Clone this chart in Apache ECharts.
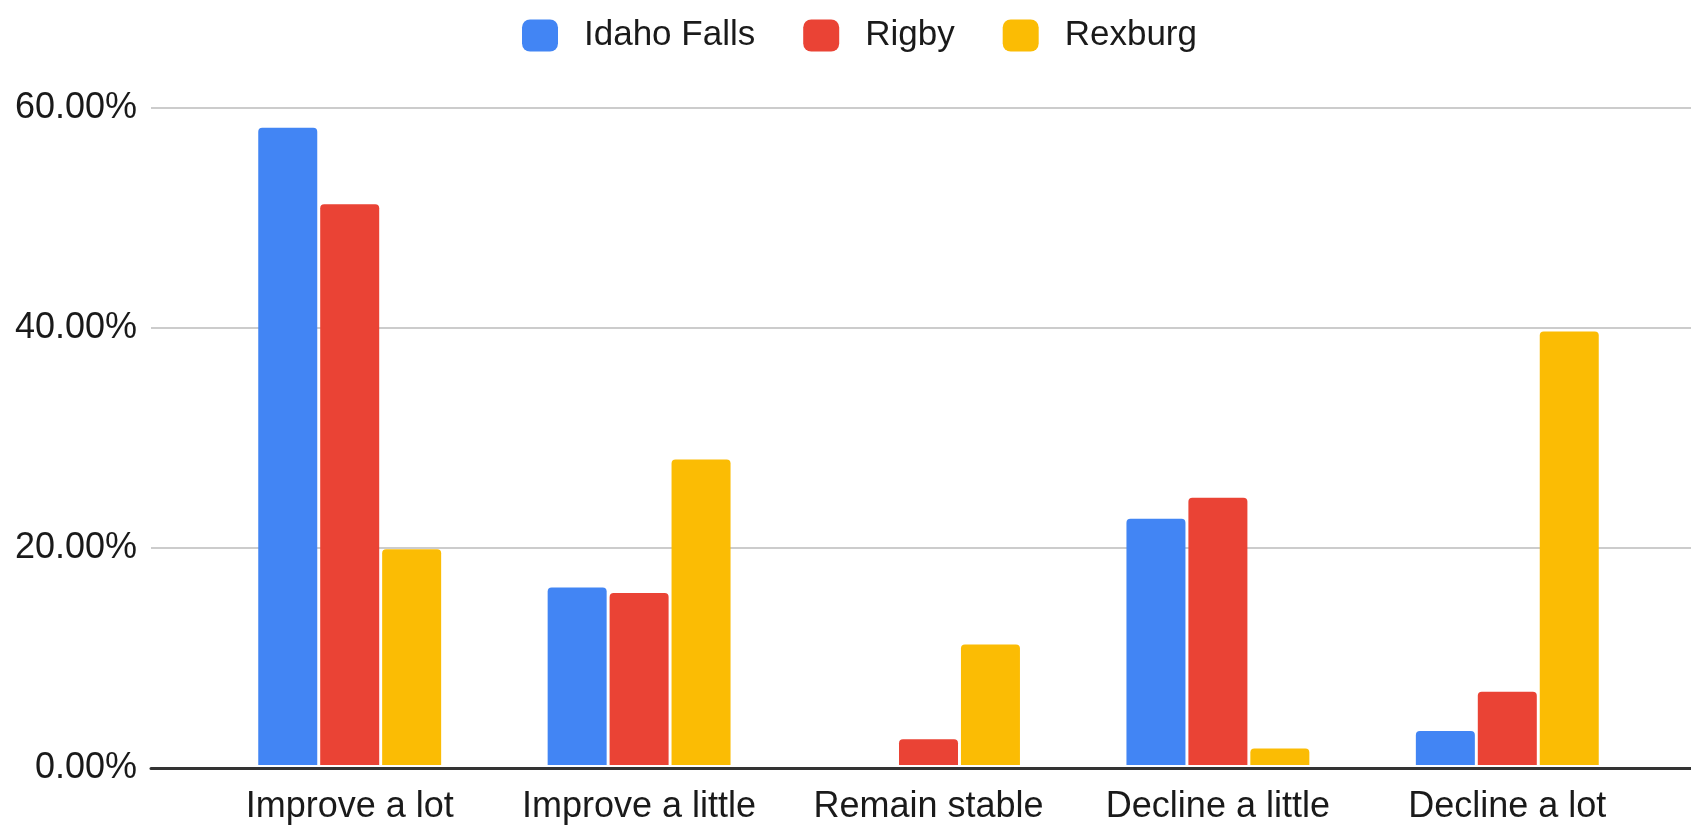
<!DOCTYPE html>
<html>
<head>
<meta charset="utf-8">
<script src="https://cdn.jsdelivr.net/npm/echarts@6/dist/echarts.min.js"></script>
<style>
  html, body { margin: 0; padding: 0; background: #fff; }
  #chart { width: 1691px; height: 825px; }
</style>
</head>
<body>
<div id="chart"></div>
<script>
const categories = ['Improve a lot', 'Improve a little', 'Remain stable', 'Decline a little', 'Decline a lot']
const idahoFalls = [58.2, 16.2, 0, 22.5, 3.1]
const rigby = [51.2, 15.7, 2.35, 24.4, 6.7]
const rexburg = [19.7, 27.9, 11.0, 1.5, 39.6]
const yTicks = [0, 20, 40, 60]

const font = 'Arial, "Liberation Sans", sans-serif'
const colors = ['#4285F4', '#EA4335', '#FBBC04']

const chart = echarts.init(document.getElementById('chart'))

const barSeries = (name, data, i) => ({
  name,
  type: 'bar',
  xAxisIndex: 1,
  yAxisIndex: 1,
  data,
  barWidth: 59,
  barGap: '5%',
  itemStyle: { color: colors[i], borderRadius: [4, 4, 0, 0] }
})

chart.setOption({
  backgroundColor: '#fff',
  animation: false,
  textStyle: { fontFamily: font },
  legend: {
    top: 13,
    left: 517,
    icon: 'roundRect',
    itemWidth: 36,
    itemHeight: 32,
    itemGap: 48,
    textStyle: { fontSize: 35, color: '#1a1a1a', fontFamily: font, padding: [0, 0, 0, 21] },
    data: ['Idaho Falls', 'Rigby', 'Rexburg']
  },
  grid: [
    { left: 151, right: 0, top: 108, bottom: 57 },
    { left: 205, right: 39, top: 108, bottom: 57 }
  ],
  xAxis: [
    {
      type: 'value', gridIndex: 0, min: 0, max: 1,
      axisLine: { show: true, lineStyle: { color: '#333', width: 3 } },
      axisTick: { show: false }, axisLabel: { show: false }, splitLine: { show: false }
    },
    {
      type: 'category', gridIndex: 1, data: categories,
      axisLine: { show: false }, axisTick: { show: false },
      axisLabel: { interval: 0, fontSize: 36, color: '#1a1a1a', fontFamily: font, margin: 24 }
    }
  ],
  yAxis: [
    {
      type: 'value', gridIndex: 0,
      min: yTicks[0], max: yTicks[yTicks.length - 1], interval: 20,
      axisLine: { show: false }, axisTick: { show: false },
      axisLabel: {
        fontSize: 36, color: '#1a1a1a', fontFamily: font, margin: 14,
        formatter: v => v.toFixed(2) + '%'
      },
      splitLine: { lineStyle: { color: '#cccccc', width: 2 } }
    },
    {
      type: 'value', gridIndex: 1, min: 0, max: 60, show: false
    }
  ],
  series: [
    barSeries('Idaho Falls', idahoFalls, 0),
    barSeries('Rigby', rigby, 1),
    barSeries('Rexburg', rexburg, 2)
  ]
})

window.addEventListener('resize', () => chart.resize())
</script>
</body>
</html>
